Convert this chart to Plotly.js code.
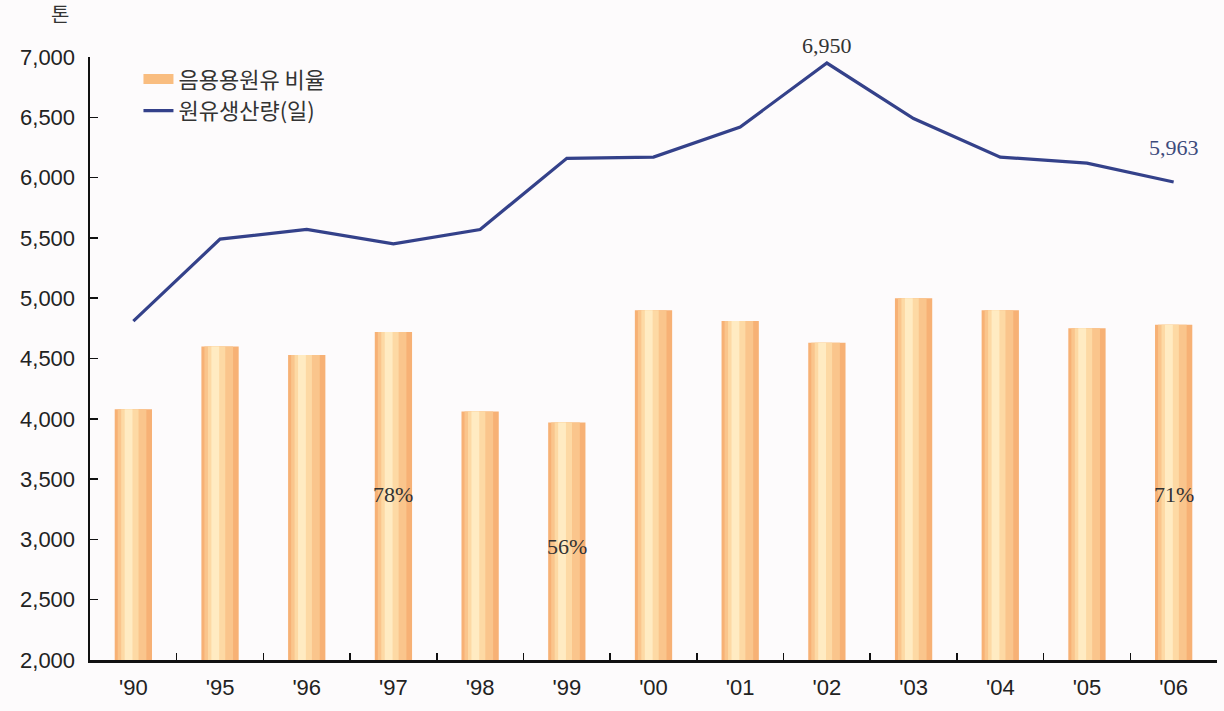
<!DOCTYPE html>
<html><head><meta charset="utf-8">
<script src="https://cdn.plot.ly/plotly-3.0.1.min.js"></script>
<style>html,body{margin:0;padding:0;background:#fdfbfc;}#chart{width:1224px;height:711px;}</style>
</head><body><div id="chart"></div>
<script>
const years = ["'90","'95","'96","'97","'98","'99","'00","'01","'02","'03","'04","'05","'06"];
const barValues = [4080, 4600, 4530, 4720, 4060, 3970, 4900, 4810, 4630, 5000, 4900, 4750, 4780];
const lineValues = [4810, 5490, 5570, 5450, 5570, 6160, 6170, 6420, 6950, 6490, 6170, 6120, 5963];
const barName = '음용용원유 비율';
const lineName = '원유생산량(일)';
const pctLabels = [{year:"'97", y:3370, text:'78%'}, {year:"'99", y:2940, text:'56%'}, {year:"'06", y:3370, text:'71%'}];
const valueLabels = [{year:"'02", v:6950, text:'6,950', color:'#333333', shift:3}, {year:"'06", v:5963, text:'5,963', color:'#3d4b7c', shift:20}];

const serif = 'Liberation Serif, serif';
const sans = 'Liberation Sans, Arial, sans-serif';
const kr = 'Noto Sans CJK KR, sans-serif';

const traces = [
  {type:'bar', x:years, y:barValues, name:barName, width:0.43, offset:-0.215, showlegend:false,
   marker:{color:'#f7b175', line:{width:0}}, hoverinfo:'skip'},
  {type:'bar', x:years, y:barValues, width:0.33, offset:-0.18, showlegend:false,
   marker:{color:'#fac58c', line:{width:0}}, hoverinfo:'skip'},
  {type:'bar', x:years, y:barValues, width:0.2, offset:-0.14, showlegend:false,
   marker:{color:'#fdd9a4', line:{width:0}}, hoverinfo:'skip'},
  {type:'bar', x:years, y:barValues, width:0.09, offset:-0.1, showlegend:false,
   marker:{color:'#ffebc2', line:{width:0}}, hoverinfo:'skip'},
  // legend key for the bar series (all-null values: no marks of its own)
  {type:'scatter', mode:'lines', x:years, y:years.map(() => null), name:barName, line:{color:'#f9bd80', width:13}},
  {type:'scatter', mode:'lines', x:years, y:lineValues, name:lineName,
   line:{color:'#34418a', width:3.2}}
];

const annotations = [
  {xref:'paper', yref:'paper', x:-0.027, y:1.045, xanchor:'center', yanchor:'bottom', text:'톤', showarrow:false,
   font:{family:kr, size:20, color:'#333'}}
];
pctLabels.forEach(p => annotations.push({x:p.year, y:p.y, text:p.text, showarrow:false, xanchor:'center', yanchor:'middle',
  font:{family:serif, size:22, color:'#333'}}));
valueLabels.forEach(p => annotations.push({x:p.year, y:p.v, text:p.text, showarrow:false, xanchor:'center', yanchor:'bottom', yshift:p.shift,
  font:{family:serif, size:22, color:p.color}}));

const layout = {
  width:1224, height:711,
  margin:{l:90, r:7, t:57, b:51},
  paper_bgcolor:'#fdfbfc', plot_bgcolor:'#fdfbfc',
  barmode:'overlay',
  showlegend:true,
  legend:{x:0.043, y:0.998, xanchor:'left', yanchor:'top', bgcolor:'rgba(0,0,0,0)', traceorder:'normal',
    font:{family:kr, size:22, color:'#333'}, tracegroupgap:0},
  xaxis:{type:'category', tickson:'boundaries', ticks:'inside', ticklen:7, tickcolor:'#111', tickwidth:1.5,
    showline:true, linecolor:'#111', linewidth:2.5, showgrid:false, zeroline:false, ticklabelstandoff:6,
    tickfont:{family:sans, size:22, color:'#222'}, fixedrange:true},
  yaxis:{range:[2000,7000], dtick:500, tickformat:',d', ticks:'inside', ticklen:8, tickcolor:'#111', tickwidth:1.5,
    showline:true, linecolor:'#111', linewidth:2.5, showgrid:false, zeroline:false, ticklabelstandoff:8,
    tickfont:{family:sans, size:22, color:'#222'}, fixedrange:true},
  annotations:annotations
};
Plotly.newPlot('chart', traces, layout, {displayModeBar:false, staticPlot:true});
</script></body></html>
